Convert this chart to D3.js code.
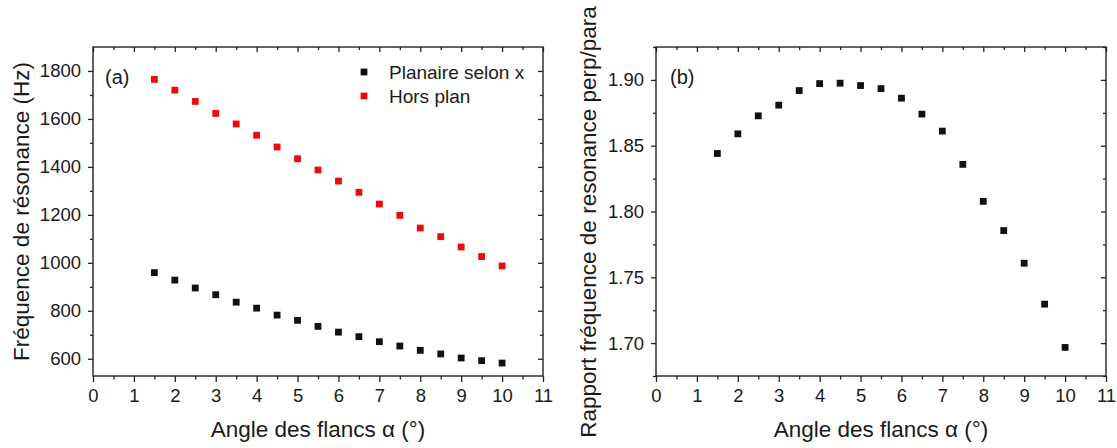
<!DOCTYPE html>
<html>
<head>
<meta charset="utf-8">
<script src="https://cdn.jsdelivr.net/npm/d3@7"></script>
<style>
  html, body { margin: 0; padding: 0; background: #fff; }
  svg { display: block; }
  text { font-family: "Liberation Sans", Arial, sans-serif; fill: #1a1a1a; }
</style>
</head>
<body>
<svg id="chart" width="1117" height="448"></svg>
<script>
// ---- data ----
const angles = [1.5, 2, 2.5, 3, 3.5, 4, 4.5, 5, 5.5, 6, 6.5, 7, 7.5, 8, 8.5, 9, 9.5, 10];
const planaire = [959, 928, 895, 867, 836, 811, 782, 760, 735, 711, 692, 671, 653, 635, 620, 603, 592, 582];
const horsPlan = [1765, 1720, 1673, 1623, 1579, 1532, 1483, 1434, 1387, 1341, 1294, 1245, 1198, 1145, 1109, 1066, 1026, 987];
const ratio = [1.8441, 1.8590, 1.8727, 1.8808, 1.8919, 1.8972, 1.8975, 1.8957, 1.8934, 1.8861, 1.8740, 1.8611, 1.8358, 1.8077, 1.7855, 1.7607, 1.7296, 1.6967];

const xTicks = [0, 1, 2, 3, 4, 5, 6, 7, 8, 9, 10, 11];
const xMinor = [0.5, 1.5, 2.5, 3.5, 4.5, 5.5, 6.5, 7.5, 8.5, 9.5, 10.5];
const yTicksA = [600, 800, 1000, 1200, 1400, 1600, 1800];
const yMinorA = [700, 900, 1100, 1300, 1500, 1700];
const yTicksB = [1.70, 1.75, 1.80, 1.85, 1.90];
const yMinorB = [1.675, 1.725, 1.775, 1.825, 1.875, 1.925];

const seriesNames = ["Planaire selon x", "Hors plan"];
const seriesColors = ["#111111", "#ee0a0a"];

const svg = d3.select("#chart");
const plotTop = 47, plotBottom = 376;

function drawPanel(x, y, yTicks, yMinor, yFmt) {
  const g = svg.append("g");
  const [x0, x1] = x.range();
  const [y0, y1] = [plotBottom, plotTop];
  const fontTick = "18.5px";

  g.append("g").attr("transform", `translate(0,${y0})`)
    .call(d3.axisBottom(x).tickValues(xTicks).tickSize(6).tickPadding(7).tickFormat(d3.format("d")));
  g.append("g").attr("transform", `translate(0,${y0})`)
    .call(d3.axisBottom(x).tickValues(xMinor).tickSize(3.5).tickFormat(""));
  g.append("g").attr("transform", `translate(0,${y1})`)
    .call(d3.axisTop(x).tickValues(xTicks).tickSize(-5).tickFormat(""));
  g.append("g").attr("transform", `translate(0,${y1})`)
    .call(d3.axisTop(x).tickValues(xMinor).tickSize(-3).tickFormat(""));
  g.append("g").attr("transform", `translate(${x0},0)`)
    .call(d3.axisLeft(y).tickValues(yTicks).tickSize(5).tickPadding(7).tickFormat(yFmt));
  g.append("g").attr("transform", `translate(${x0},0)`)
    .call(d3.axisLeft(y).tickValues(yMinor).tickSize(3).tickFormat(""));
  g.append("g").attr("transform", `translate(${x1},0)`)
    .call(d3.axisRight(y).tickValues(yTicks).tickSize(-5).tickFormat(""));
  g.append("g").attr("transform", `translate(${x1},0)`)
    .call(d3.axisRight(y).tickValues(yMinor).tickSize(-3).tickFormat(""));

  g.selectAll(".domain").remove();
  g.selectAll(".tick line").attr("stroke", "#222").attr("stroke-width", 1.3);
  g.selectAll(".tick text").style("font-size", fontTick).style("font-family", "'Liberation Sans', Arial, sans-serif").attr("fill", "#1a1a1a");

  g.append("rect")
    .attr("x", x0).attr("y", y1)
    .attr("width", x1 - x0).attr("height", y0 - y1)
    .attr("fill", "none").attr("stroke", "#222").attr("stroke-width", 1.4);
  return g;
}

function squares(g, x, y, xs, ys, color) {
  const s = 6.8;
  g.append("g").selectAll("rect").data(xs.map((d, i) => [d, ys[i]])).join("rect")
    .attr("x", d => x(d[0]) - s / 2)
    .attr("y", d => y(d[1]) - s / 2)
    .attr("width", s).attr("height", s)
    .attr("fill", color);
}

// ---- panel (a) ----
const xA = d3.scaleLinear().domain([0, 11]).range([93, 543]);
const yA = d3.scaleLinear().domain([528, 1900]).range([plotBottom, plotTop]);
const gA = drawPanel(xA, yA, yTicksA, yMinorA, d3.format("d"));
squares(gA, xA, yA, angles, planaire, seriesColors[0]);
squares(gA, xA, yA, angles, horsPlan, seriesColors[1]);

gA.append("text").attr("x", 105).attr("y", 84).style("font-size", "20px").text("(a)");

const leg = gA.append("g");
seriesNames.forEach((name, i) => {
  const cy = 72 + i * 24;
  leg.append("rect").attr("x", 364 - 3.4).attr("y", cy - 3.4).attr("width", 6.8).attr("height", 6.8).attr("fill", seriesColors[i]);
  leg.append("text").attr("x", 389).attr("y", cy + 6.5).style("font-size", "19px").text(name);
});

gA.append("text")
  .attr("x", (93 + 543) / 2).attr("y", 437)
  .attr("text-anchor", "middle").style("font-size", "22.5px")
  .text("Angle des flancs α (°)");
gA.append("text")
  .attr("transform", `translate(29,${(plotTop + plotBottom) / 2}) rotate(-90)`)
  .attr("text-anchor", "middle").style("font-size", "22.5px")
  .text("Fréquence de résonance (Hz)");

// ---- panel (b) ----
const xB = d3.scaleLinear().domain([0, 11]).range([656, 1106]);
const yB = d3.scaleLinear().domain([1.675, 1.925]).range([plotBottom, plotTop]);
const gB = drawPanel(xB, yB, yTicksB, yMinorB, d3.format(".2f"));
squares(gB, xB, yB, angles, ratio, seriesColors[0]);

gB.append("text").attr("x", 670).attr("y", 84).style("font-size", "20px").text("(b)");

gB.append("text")
  .attr("x", (656 + 1106) / 2).attr("y", 437)
  .attr("text-anchor", "middle").style("font-size", "22.5px")
  .text("Angle des flancs α (°)");
gB.append("text")
  .attr("transform", `translate(596,222) rotate(-90)`)
  .attr("text-anchor", "middle").style("font-size", "22.5px")
  .text("Rapport fréquence de resonance perp/para");
</script>
</body>
</html>
